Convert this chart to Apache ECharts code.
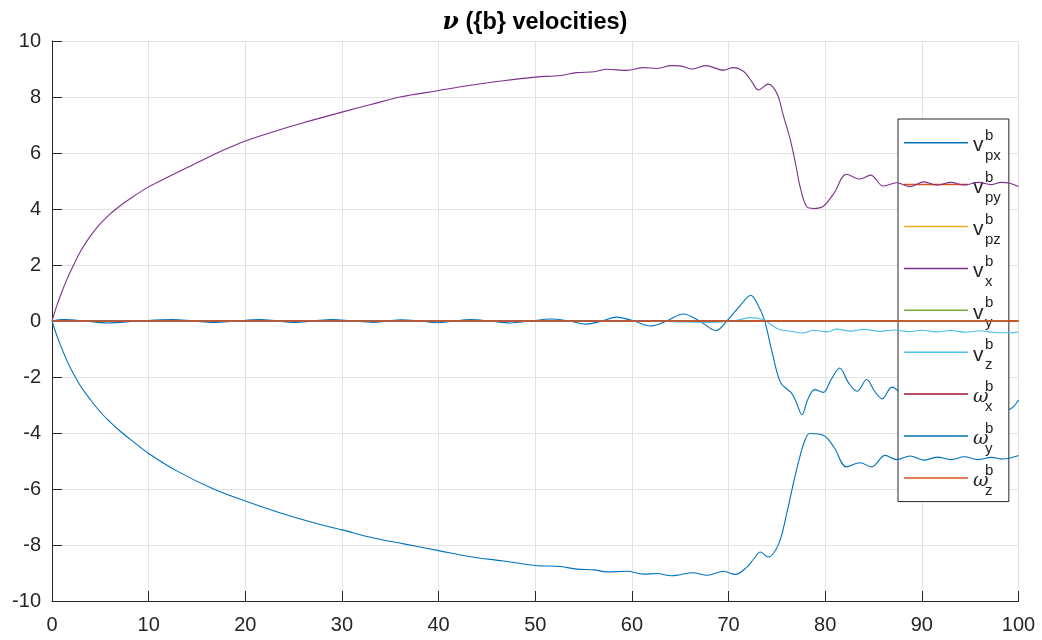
<!DOCTYPE html>
<html>
<head>
<meta charset="utf-8">
<script src="https://cdn.jsdelivr.net/npm/echarts@6/dist/echarts.min.js"></script>
<style>
  html, body { margin: 0; padding: 0; background: #ffffff; }
  #chart { width: 1042px; height: 640px; }
</style>
</head>
<body>
<div id="chart"></div>
<script>
// Axis ticks
const xTicks = { min: 0, max: 100, step: 10 };
const yTicks = { min: -10, max: 10, step: 2 };

// Series identifiers (legend order) with base symbol and subscript
const seriesNames = ['v_px', 'v_py', 'v_pz', 'v_x', 'v_y', 'v_z', 'w_x', 'w_y', 'w_z'];
const legendBase  = ['v', 'v', 'v', 'v', 'v', 'v', 'ω', 'ω', 'ω'];
const legendSub   = ['px', 'py', 'pz', 'x', 'y', 'z', 'x', 'y', 'z'];
const seriesColors = ['#0072BD', '#D95319', '#EDB120', '#7E2F8E', '#77AC30', '#4DBEEE', '#A2142F', '#0072BD', '#D95319'];

// v_px : small oscillation around zero, then drop after t≈73
const tVpx = [0, 1.2, 3.4, 5.7, 9, 12.5, 14.6, 16.7, 19, 21.5, 23.3, 25, 27, 29, 31, 33.2, 34.7, 36.1, 38, 39.9,
              41.6, 43.3, 45.3, 47.4, 49.5, 51.6, 53.5, 55.3, 56.9, 58.4, 60.2, 61.9, 63.6, 65.3, 67, 68.7, 69.9, 71.2, 72.3, 73,
              73.7, 74.5, 75.4, 76.5, 77.0, 77.6, 78.2, 78.9, 79.8, 80.6, 81.5, 82.4, 83.3, 84.3, 85.1, 85.9, 86.9, 87.7, 88.5, 89.8,
              91.1, 92.4, 93.7, 95.0, 96.3, 97.6, 98.9, 99.5, 100];
const vpx  = [0, 0.05, 0, -0.07, 0, 0.05, 0, -0.05, 0, 0.05, 0, -0.05, 0, 0.05, 0, -0.05, 0, 0.04, 0, -0.06,
              0, 0.05, 0, -0.07, 0, 0.07, 0, -0.11, 0, 0.14, 0, -0.18, 0, 0.25, 0, -0.34, 0.03, 0.55, 0.92, 0.6,
              0.05, -1.1, -2.21, -2.57, -2.9, -3.35, -2.8, -2.45, -2.55, -2.1, -1.68, -2.2, -2.51, -2.09, -2.5, -2.78, -2.36, -2.55, -2.9, -2.5,
              -3.0, -2.62, -3.08, -2.7, -3.12, -2.75, -3.18, -3.05, -2.82];

// v_x : surge velocity
const tVx = [0, 0.5, 1, 1.5, 2, 3, 4, 5, 6, 7, 8, 10, 12, 14, 16, 18, 20, 23, 26, 30,
             33, 36, 40, 43, 46.7, 50, 52.6, 54.3, 56.1, 57.4, 59.5, 61.2, 62.6, 64.1, 65, 66.3, 67.6, 69.5, 70.5, 71.6,
             72.4, 73.1, 74.1, 75, 75.7, 76.4, 77, 77.4, 78.1, 78.8, 79.8, 80.9, 82.2, 83.6, 84.7, 86, 87.4, 88.8, 90.2, 91.6,
             93, 94.4, 95.8, 97.2, 98.2, 99.1, 100];
const vx  = [0, 0.55, 1.02, 1.45, 1.83, 2.52, 3.05, 3.48, 3.82, 4.1, 4.35, 4.79, 5.14, 5.48, 5.82, 6.14, 6.43, 6.77, 7.08, 7.46,
             7.73, 8.0, 8.23, 8.4, 8.58, 8.71, 8.77, 8.87, 8.9, 8.99, 8.95, 9.05, 9.02, 9.12, 9.11, 9.0, 9.12, 8.96, 9.05, 8.9,
             8.55, 8.25, 8.46, 8.13, 7.3, 6.46, 5.5, 4.8, 4.08, 4.02, 4.1, 4.56, 5.24, 5.07, 5.21, 4.82, 4.94, 4.8, 4.97, 4.85,
             4.95, 4.86, 4.95, 4.87, 4.95, 4.92, 4.8];

// v_z : heave velocity
const tVz = [0, 20, 40, 55, 60, 65, 68, 70.5, 72.2, 73.6, 74.5, 75.3, 76.4, 77.6, 78.8, 80.2, 81.2, 82.6, 84, 85.7,
             87.1, 88.6, 90, 91.5, 93, 94.5, 96, 97.5, 99.1, 100];
const vz  = [0, 0, -0.01, 0, 0.02, -0.03, -0.05, 0, 0.12, 0.05, -0.15, -0.31, -0.36, -0.43, -0.33, -0.39, -0.29, -0.36, -0.3, -0.37,
             -0.32, -0.38, -0.33, -0.39, -0.34, -0.4, -0.35, -0.41, -0.42, -0.39];

// ω_y : pitch rate
const tWy = [0, 0.5, 1, 1.5, 2, 3, 4, 5, 6, 7, 8, 10, 13, 16.6, 20, 23.4, 26.9, 30, 33.4, 36.4,
             40, 43.3, 46.7, 50, 52.6, 54.3, 56.1, 57.4, 59.5, 61.2, 62.6, 64.1, 65, 66.3, 67.8, 69.5, 70.7, 71.9, 72.6, 73.3,
             74.1, 75.2, 76, 76.7, 77.3, 77.9, 78.4, 79.8, 80.9, 82.2, 83.6, 84.8, 86.2, 87.4, 88.8, 90.2, 91.6, 93, 94.4, 95.8,
             97.2, 98.4, 99.5, 100];
const wy  = [0, -0.52, -0.97, -1.38, -1.74, -2.35, -2.82, -3.25, -3.6, -3.92, -4.2, -4.73, -5.37, -5.98, -6.43, -6.83, -7.19, -7.46, -7.76, -7.96,
             -8.2, -8.42, -8.57, -8.73, -8.77, -8.86, -8.89, -8.96, -8.94, -9.04, -9.02, -9.1, -9.06, -8.99, -9.08, -8.94, -9.05, -8.79, -8.5, -8.25,
             -8.43, -7.95, -6.9, -5.81, -4.95, -4.26, -4.02, -4.08, -4.5, -5.21, -5.06, -5.21, -4.8, -4.95, -4.82, -4.97, -4.86, -4.95, -4.85, -4.95,
             -4.87, -4.93, -4.86, -4.8];

// Components that stay at zero over the whole run
const tFlat = [0, 100];
const vFlat = [0, 0];

const seriesTime   = [tVpx, tFlat, tFlat, tVx, tFlat, tVz, tFlat, tWy, tFlat];
const seriesValues = [vpx,  vFlat, vFlat, vx,  vFlat, vz,  vFlat, wy,  vFlat];

const TEXT = '#262626';
const FONT = 'Liberation Sans, Arial, Helvetica, sans-serif';

const chart = echarts.init(document.getElementById('chart'), null, { renderer: 'canvas' });

const series = seriesNames.map((name, i) => ({
  name: name,
  type: 'line',
  data: seriesTime[i].map((t, k) => [t, seriesValues[i][k]]),
  showSymbol: false,
  symbol: 'none',
  smooth: 0.35,
  lineStyle: { width: 1.1, color: seriesColors[i] },
  itemStyle: { color: seriesColors[i] },
  emphasis: { disabled: true },
  z: 2 + i
}));

chart.setOption({
  animation: false,
  backgroundColor: '#ffffff',
  title: {
    text: '{nu|ν} ({b} velocities)',
    left: 535,
    top: 11,
    padding: 0,
    textAlign: 'center',
    textStyle: {
      fontFamily: FONT, fontSize: 23.5, fontWeight: 'bold', color: '#000000',
      rich: {
        nu: { fontFamily: 'DejaVu Serif, serif', fontStyle: 'italic', fontWeight: 'bold', fontSize: 23.5, color: '#000000' }
      }
    }
  },
  grid: { left: 52, right: 23.5, top: 41, bottom: 39, containLabel: false },
  xAxis: {
    type: 'value',
    min: xTicks.min, max: xTicks.max, interval: xTicks.step,
    axisLine: { show: true, onZero: false, lineStyle: { color: TEXT, width: 1 } },
    axisTick: { show: true, inside: true, length: 10, lineStyle: { color: TEXT, width: 1 } },
    axisLabel: { fontFamily: FONT, fontSize: 20, color: TEXT, margin: 14 },
    splitLine: { show: true, lineStyle: { color: '#e3e3e3', width: 1 } }
  },
  yAxis: {
    type: 'value',
    min: yTicks.min, max: yTicks.max, interval: yTicks.step,
    axisLine: { show: true, onZero: false, lineStyle: { color: TEXT, width: 1 } },
    axisTick: { show: true, inside: true, length: 10, lineStyle: { color: TEXT, width: 1 } },
    axisLabel: { fontFamily: FONT, fontSize: 20, color: TEXT, margin: 11 },
    splitLine: { show: true, lineStyle: { color: '#e3e3e3', width: 1 } }
  },
  legend: {
    orient: 'vertical',
    left: 898,
    top: 119,
    padding: [5.7, 8, 3.2, 6],
    icon: 'rect',
    itemWidth: 64,
    itemHeight: 1.5,
    itemGap: 3.4,
    backgroundColor: '#ffffff',
    borderColor: TEXT,
    borderWidth: 1,
    borderRadius: 0,
    selectedMode: false,
    data: seriesNames,
    formatter: function (name) {
      const i = seriesNames.indexOf(name);
      const baseStyle = legendBase[i] === 'ω' ? 'w' : 'm';
      return '{e|}\n{g|}{s|b}\n{' + baseStyle + '|' + legendBase[i] + '}\n{g|}{s|' + legendSub[i] + '}';
    },
    textStyle: {
      fontFamily: FONT, color: TEXT, fontSize: 15,
      rich: {
        e: { width: 1, lineHeight: 6, fontSize: 6 },
        g: { width: 12, lineHeight: 10, fontSize: 15 },
        s: { fontFamily: FONT, fontSize: 15, lineHeight: 10, color: TEXT },
        m: { fontFamily: FONT, fontSize: 21, lineHeight: 10, color: TEXT },
        w: { fontFamily: 'DejaVu Serif, serif', fontStyle: 'italic', fontSize: 19, lineHeight: 10, color: TEXT }
      }
    }
  },
  series: series
});
</script>
</body>
</html>
